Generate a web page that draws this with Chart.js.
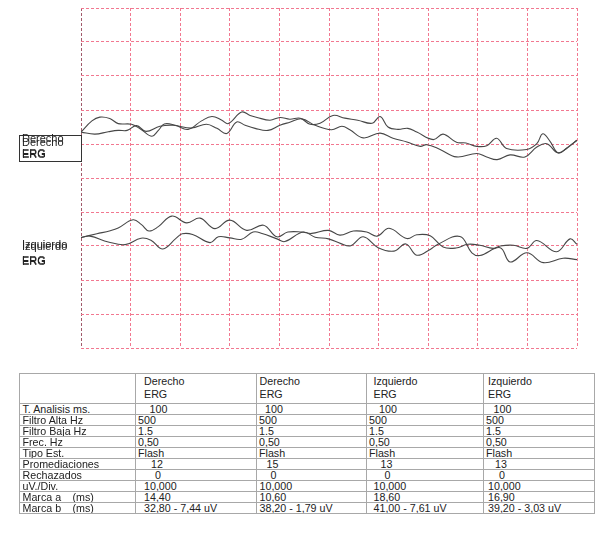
<!DOCTYPE html>
<html>
<head>
<meta charset="utf-8">
<script src="https://cdn.jsdelivr.net/npm/chart.js@4.4.1/dist/chart.umd.min.js"></script>
<style>
html,body{margin:0;padding:0;background:#fff;}
body{width:600px;height:544px;position:relative;overflow:hidden;font-family:"Liberation Sans",Arial,sans-serif;color:#222;}
#c{position:absolute;left:0;top:0;}
.lbl{position:absolute;font-size:11px;line-height:11px;white-space:nowrap;color:#222;}
#box{position:absolute;left:19px;top:135px;width:61px;height:25px;border:1px solid #333;}
#tbl{position:absolute;left:19px;top:373px;border-collapse:collapse;font-size:10.7px;table-layout:fixed;color:#222;}
#tbl td{border:1px solid #a8a8a8;padding:0;height:10px;line-height:10px;white-space:nowrap;overflow:hidden;vertical-align:bottom;}
#tbl tr.hd td{height:28px;line-height:13px;vertical-align:top;padding-top:1px;}
</style>
</head>
<body>
<canvas id="c" width="600" height="360" style="width:600px;height:360px"></canvas>
<div id="box"></div>
<div id="labels"></div>
<table id="tbl"></table>
<script>
// ---- Trace data: time (ms) and amplitude (uV, as positioned on screen, 10 uV/div) ----
const derechoT1 = [0,2.2,3.8,5.8,7.5,10.2,12.2,14.3,15.6,16.8,19.0,21.6,24.3,26.4,28.4,29.7,32.4,34.1,35.5,38.1,40.1,42.1,44.2,46.2,48.2,50.8,53.2,55.8,58.7,60.3,61.9,63.9,65.9,67.7,71.0,73.0,75.7,77.6,79.8,81.8,83.8,85.8,89.9,91.9,93.1,94.6,96.2,97.9,100];
const derechoV1 = [13.5,16.8,17.9,17.5,16.0,15.8,14.2,12.3,14.0,15.9,15.5,14.3,16.8,18.1,17.0,16.0,19.4,18.4,17.8,17.0,17.8,17.3,17.6,15.8,16.1,18.4,17.6,17.0,16.1,18.1,15.0,14.3,14.6,13.5,11.3,12.9,10.5,10.3,9.3,9.5,11.7,8.7,8.4,10.1,13.0,10.7,7.4,8.7,11.1];
const derechoT2 = [0,2.8,5.5,7.5,9.3,11.2,13.1,15.9,18.6,22.3,25.3,27.4,29.4,31.4,33.1,35.1,37.7,40.1,42.1,44.5,47.2,50.5,52.6,54.2,56.9,60.3,62.9,65.7,68.4,69.7,72.4,75.7,79.8,81.8,83.9,86.5,89.5,91.9,93.9,96.2,98.6,100];
const derechoV2 = [13.5,12.9,13.6,14.0,14.0,15.4,13.7,15.2,15.5,14.7,15.8,14.6,13.1,16.5,15.5,14.6,14.0,15.5,16.4,17.4,15.5,14.2,15.2,14.2,11.8,13.2,11.7,10.6,9.3,9.8,8.4,6.2,7.2,6.2,5.4,6.8,6.2,9.1,10.1,7.4,9.6,11.1];
const izquierdoT1 = [0,3.2,5.9,7.5,10.5,12.2,13.7,15.6,18.3,21.3,24.0,27.0,30.0,33.4,36.8,39.5,41.7,44.5,46.5,49.9,52.2,54.9,57.6,59.7,62.1,65.7,67.7,70.4,73.0,75.6,78.0,80.4,83.1,84.5,87.2,89.9,91.9,95.9,98.6,100];
const izquierdoV1 = [-17.5,-16.4,-15.5,-14.7,-12.3,-13.7,-15.6,-14.3,-11.2,-13.2,-11.8,-14.9,-12.4,-15.4,-13.9,-17.3,-15.9,-15.9,-16.3,-15.4,-16.8,-15.6,-15.9,-17.1,-14.8,-17.8,-16.7,-17.0,-20.3,-20.6,-19.5,-19.8,-20.7,-20.0,-19.8,-20.7,-18.4,-21.7,-17.9,-19.5];
const izquierdoT2 = [0,1.8,5.5,8.9,12.1,14.1,16.5,19.2,20.4,22.5,26.0,27.7,30.0,32.4,34.7,36.5,39.5,41.1,44.8,47.2,49.9,52.4,54.4,56.9,59.9,63.1,65.5,67.7,70.4,71.8,76.4,78.8,80.4,84.5,86.5,89.9,93.2,97.2,100];
const izquierdoV2 = [-17.5,-17.1,-18.8,-19.6,-17.7,-18.3,-20.9,-17.7,-16.4,-16.6,-19.0,-17.3,-17.6,-18.0,-15.9,-16.3,-17.9,-18.7,-15.9,-17.4,-17.9,-19.3,-19.9,-17.3,-20.5,-21.5,-19.4,-22.7,-21.0,-19.6,-17.2,-22.0,-22.8,-20.5,-24.7,-22.0,-24.9,-23.6,-24.0];

// ---- Axis settings (ms, uV) ----
const timeRange = [0, 100];     // T. Analisis 100 ms
const timeStep = 10;
const ampRange = [-50, 50];     // 10 uV/div
const ampStep = 10;

// ---- Channel labels ----
const channelNames = ["Derecho", "Izquierdo"];
const testName = "ERG";

// ---- Table ----
const colHeaders = [["Derecho","ERG"],["Derecho","ERG"],["Izquierdo","ERG"],["Izquierdo","ERG"]];
const rowLabels = ["T. Analisis ms.","Filtro Alta Hz","Filtro Baja Hz","Frec. Hz","Tipo Est.","Promediaciones","Rechazados","uV./Div.","Marca a","Marca b"];
const derecho1Vals = ["100","500","1.5","0,50","Flash","12","0","10,000","14,40","32,80 - 7,44 uV"];
const derecho2Vals = ["100","500","1.5","0,50","Flash","15","0","10,000","10,60","38,20 - 1,79 uV"];
const izquierdo1Vals = ["100","500","1.5","0,50","Flash","13","0","10,000","18,60","41,00 - 7,61 uV"];
const izquierdo2Vals = ["100","500","1.5","0,50","Flash","13","0","10,000","16,90","39,20 - 3,03 uV"];

// ---- Build chart ----
const pts = (ts, vs) => ts.map((t, i) => ({x: t, y: vs[i]}));
const traceStyle = {borderColor:'#474747', borderWidth:1.1, pointRadius:0, tension:0.4, fill:false};
const pink = '#f27890';
const gridColorX = (c) => (c.tick && c.tick.value === timeRange[0]) ? '#a05a6a' : pink;

new Chart(document.getElementById('c'), {
  type: 'line',
  data: {
    datasets: [
      Object.assign({data: pts(derechoT1, derechoV1)}, traceStyle),
      Object.assign({data: pts(derechoT2, derechoV2)}, traceStyle),
      Object.assign({data: pts(izquierdoT1, izquierdoV1)}, traceStyle),
      Object.assign({data: pts(izquierdoT2, izquierdoV2)}, traceStyle)
    ]
  },
  options: {
    responsive: false,
    animation: false,
    devicePixelRatio: 1,
    layout: {padding: {left: 81, right: 23, top: 8, bottom: 12}},
    plugins: {legend: {display: false}, tooltip: {enabled: false}},
    scales: {
      x: {type: 'linear', min: timeRange[0], max: timeRange[1],
          ticks: {display: false, stepSize: timeStep},
          grid: {color: gridColorX, lineWidth: 1, drawTicks: false},
          border: {display: false, dash: [3, 2]}},
      y: {type: 'linear', min: ampRange[0], max: ampRange[1],
          ticks: {display: false, stepSize: ampStep},
          grid: {color: pink, lineWidth: 1, drawTicks: false},
          border: {display: false, dash: [3, 2]}}
    }
  }
});

// ---- Channel labels (two overlapping copies, as in the recording printout) ----
const labelSpecs = [
  {text: channelNames[0], left: 22, top: 132.5},
  {text: channelNames[0], left: 22, top: 136.5},
  {text: testName, left: 22, top: 147.7},
  {text: testName, left: 22, top: 148.7},
  {text: channelNames[1], left: 22, top: 239},
  {text: channelNames[1], left: 22, top: 241.4},
  {text: testName, left: 22, top: 254.5},
  {text: testName, left: 22, top: 255.5}
];
const lblHost = document.getElementById('labels');
labelSpecs.forEach(s => {
  const d = document.createElement('div');
  d.className = 'lbl';
  d.style.left = s.left + 'px';
  d.style.top = s.top + 'px';
  d.textContent = s.text;
  lblHost.appendChild(d);
});

// ---- Table ----
const colWidths = [116, 121, 110, 117, 111];
const colBase = [8, 2.5, 6.5, 4];
const rowMode = ['shift5','low','low','low','low','count','zero','base','base','base'];
const valueCols = [derecho1Vals, derecho2Vals, izquierdo1Vals, izquierdo2Vals];
const tbl = document.getElementById('tbl');
const cg = document.createElement('colgroup');
colWidths.forEach(w => { const c = document.createElement('col'); c.style.width = w + 'px'; cg.appendChild(c); });
tbl.appendChild(cg);
const hr = document.createElement('tr'); hr.className = 'hd';
hr.appendChild(document.createElement('td'));
colHeaders.forEach((h, ci) => {
  const td = document.createElement('td');
  td.style.paddingLeft = colBase[ci] + 'px';
  td.innerHTML = h[0] + '<br>' + h[1];
  hr.appendChild(td);
});
tbl.appendChild(hr);
rowLabels.forEach((lab, ri) => {
  const tr = document.createElement('tr');
  const th = document.createElement('td');
  th.style.paddingLeft = '2.5px';
  if (lab.startsWith('Marca')) {
    const s = document.createElement('span');
    s.style.display = 'inline-block'; s.style.width = '50px';
    s.textContent = lab;
    th.appendChild(s);
    th.appendChild(document.createTextNode('(ms)'));
  } else th.textContent = lab;
  tr.appendChild(th);
  valueCols.forEach((vals, ci) => {
    const td = document.createElement('td');
    let pad = colBase[ci];
    const m = rowMode[ri];
    if (m === 'shift5') pad += 5.5;
    else if (m === 'low') pad = 2;
    else if (m === 'count') pad += 7;
    else if (m === 'zero') pad += 11;
    td.style.paddingLeft = pad + 'px';
    td.textContent = vals[ri];
    tr.appendChild(td);
  });
  tbl.appendChild(tr);
});
</script>
</body>
</html>
